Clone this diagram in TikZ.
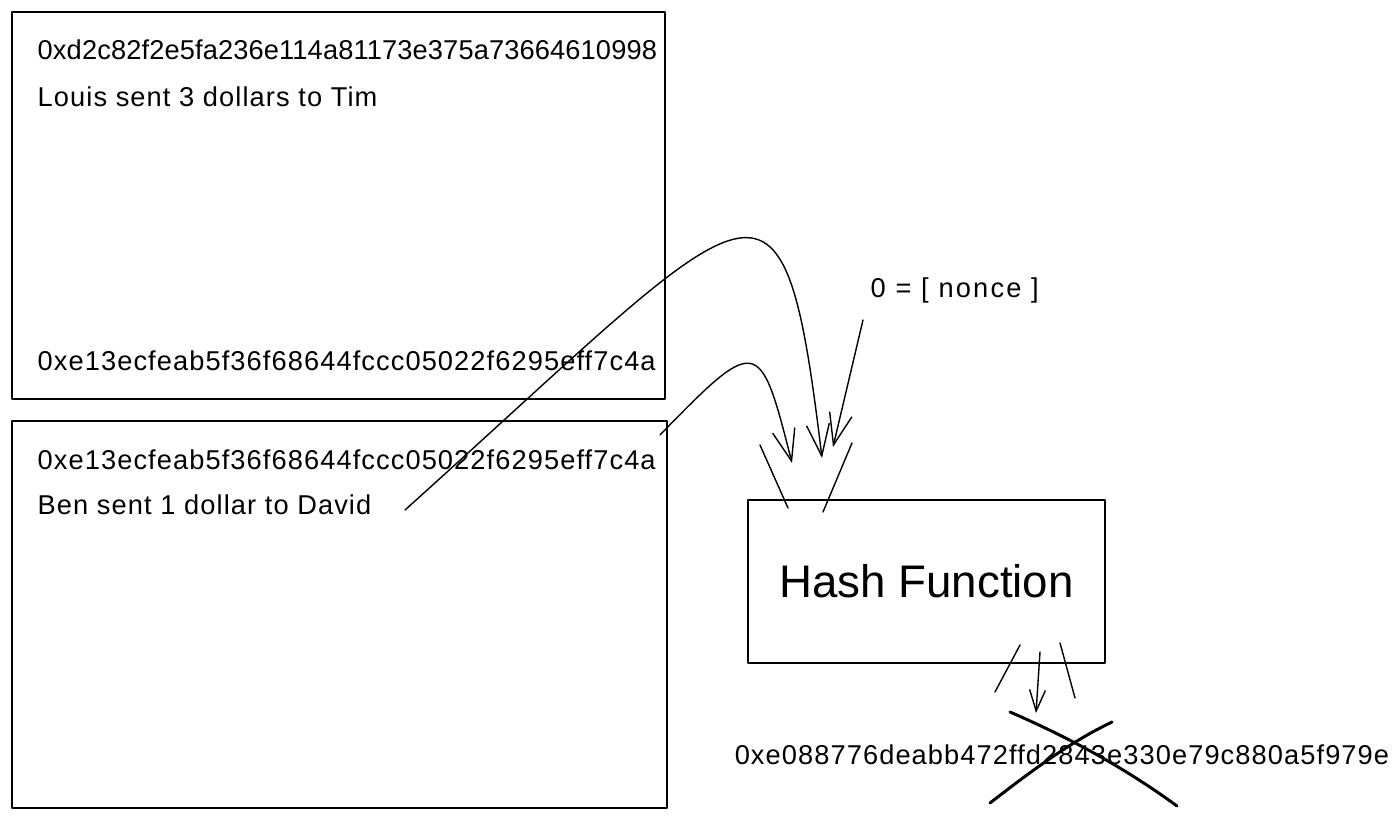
\documentclass[tikz,border=0pt]{standalone}
\usepackage{fontspec}
\setmainfont{Liberation Sans}
\usepackage{tikz}
\usetikzlibrary{positioning}
\usetikzlibrary{arrows.meta}
\tikzset{blk/.style={shape=rectangle, draw=black, line width=0.9pt, inner sep=0pt}}
\tikzset{txt/.style={anchor=west, inner sep=0pt, font=\fontsize{15.5}{18}\selectfont\addfontfeatures{LetterSpace=#1}}, txt/.default=4}

\begin{document}
\begin{tikzpicture}[x=0.02cm, y=-0.02cm, line width=0.8pt, line join=round, line cap=round,
		>={Straight Barb[length=18pt,width=13pt]}]
		\useasboundingbox (0,0) rectangle (1400,821);
		\node[blk, minimum width=13.06cm, minimum height=7.74cm] (B1) at (338.5,205.5) {};
		\node[blk, minimum width=13.1cm, minimum height=7.74cm] (B2) at (339.5,614.5) {};
		\node[blk, minimum width=7.14cm, minimum height=3.26cm, font=\fontsize{26}{30}\selectfont] (H) at (926.5,581.5) {Hash Function};
		\node[txt=0.5] (B1top) at (37,50) {0xd2c82f2e5fa236e114a81173e375a73664610998};
		\node[txt] (B1msg) at (37,97) {Louis sent 3 dollars to Tim};
		\node[txt] (B1end) at (37,361) {0xe13ecfeab5f36f68644fccc05022f6295eff7c4a};
		\node[txt] (B2top) at (37,460) {0xe13ecfeab5f36f68644fccc05022f6295eff7c4a};
		\node[txt] (B2msg) at (37,505) {Ben sent 1 dollar to David};
		\node[txt=8] (N) at (870,290) {0 = [ nonce ]};
		\node[txt, anchor=center] (O) at (1062,755) {0xe088776deabb472ffd2843e330e79c880a5f979e};
		\coordinate (c1) at (405,510); \coordinate (t1) at (822,458);
		\coordinate (c2) at (660,435); \coordinate (t2) at (792,463);
		\coordinate (c3) at (863,320); \coordinate (t3) at (833,447);
		\coordinate (c4) at (1040,652); \coordinate (t4) at (1036,713);
		\draw [->] (c1) .. controls (762,189) and (782,128) .. (t1);
		\draw [->] (c2) .. controls (758,334) and (760,337) .. (t2);
		\draw [->] (c3) -- (t3);
		\draw [->, >={Straight Barb[length=12pt,width=9pt]}] (c4) -- (t4);
		% strokes
		\draw (760,445) -- (788,508);
		\draw (852,443) -- (823,512);
		\draw (1020,645) -- (995,692);
		\draw (1060,643) -- (1075,698);
		% cross
		\draw[line width=1.7pt] (1010,712) .. controls (1070,738) and (1125,768) .. (1177,806);
		\draw[line width=1.7pt] (990,803) .. controls (1030,772) and (1070,742) .. (1112,722);
	\end{tikzpicture}
\end{document}
